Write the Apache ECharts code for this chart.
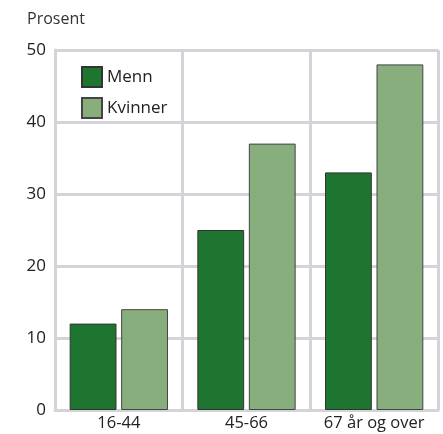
<!DOCTYPE html>
<html><head><meta charset="utf-8">
<script src="https://cdn.jsdelivr.net/npm/echarts@6/dist/echarts.min.js"></script>
<style>html,body{margin:0;padding:0;background:#fff}#c{width:443px;height:434px}</style>
</head><body><div id="c"></div>
<script>
const categories = ['16-44', '45-66', '67 år og over'];
const menn = [12, 25, 33];
const kvinner = [14, 37, 48];
const yTicks = [0, 10, 20, 30, 40, 50];

const font = '"Open Sans", "Noto Sans", sans-serif';
const gridColor = '#d4d4d8';
const chart = echarts.init(document.getElementById('c'), null, {renderer: 'canvas'});
chart.setOption({
  animation: false,
  textStyle: {fontFamily: font},
  grid: {left: 55, right: 5, top: 50, bottom: 24},
  title: {text: 'Prosent', left: 27, top: 11, padding: 0, textStyle: {fontFamily: font, fontSize: 16, fontWeight: 'normal', color: '#333'}},
  legend: {
    orient: 'vertical', left: 76, top: 61, itemWidth: 20, itemHeight: 20, itemGap: 9,
    icon: 'rect',
    textStyle: {fontFamily: font, fontSize: 17, color: '#222'},
    data: ['Menn', 'Kvinner']
  },
  xAxis: {
    type: 'category', data: categories,
    axisLine: {show: true, lineStyle: {color: gridColor, width: 3}},
    axisTick: {show: false},
    axisLabel: {fontFamily: font, fontSize: 16.5, color: '#222', margin: 5, interval: 0},
    splitLine: {show: true, lineStyle: {color: gridColor, width: 3}}
  },
  yAxis: {
    type: 'value', min: yTicks[0], max: yTicks[yTicks.length - 1], interval: 10,
    axisLine: {show: true, lineStyle: {color: gridColor, width: 3}},
    axisTick: {show: false},
    axisLabel: {fontFamily: font, fontSize: 17, color: '#222', margin: 9},
    splitLine: {show: true, lineStyle: {color: gridColor, width: 3}}
  },
  series: [
    {name: 'Menn', type: 'bar', data: menn, barGap: '10%', barCategoryGap: '23%',
     itemStyle: {color: '#1e752f', borderColor: '#333', borderWidth: 1}},
    {name: 'Kvinner', type: 'bar', data: kvinner,
     itemStyle: {color: '#89ae7e', borderColor: '#444', borderWidth: 1}}
  ]
});
</script></body></html>
